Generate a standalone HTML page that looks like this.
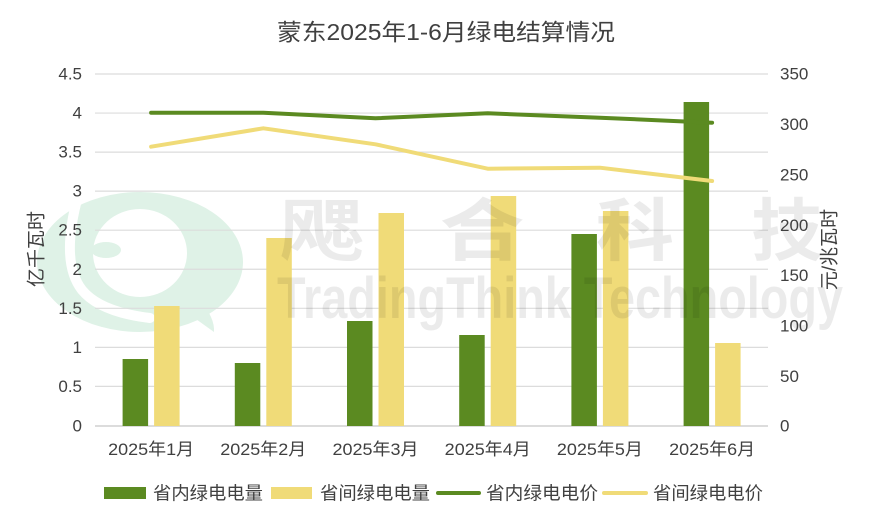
<!DOCTYPE html>
<html><head><meta charset="utf-8"><style>
html,body{margin:0;padding:0;background:#fff;}
svg{display:block;}
text{font-family:"Liberation Sans","Noto Sans CJK SC",sans-serif;fill:#404040;}
</style></head><body>
<svg width="869" height="524" viewBox="0 0 869 524" xmlns="http://www.w3.org/2000/svg">
<rect width="869" height="524" fill="#fff"/>
<!-- logo watermark -->
<ellipse cx="140" cy="262" rx="103" ry="70" fill="#dff2e7"/>
<path d="M78 196 Q60 262 82 290 Q100 312 150 318" fill="none" stroke="#fff" stroke-width="10" stroke-linecap="round"/>
<rect x="20" y="180" width="45" height="30" fill="#fff"/>
<ellipse cx="140" cy="253" rx="47" ry="44" fill="#fff"/>
<ellipse cx="106" cy="250" rx="15" ry="8" fill="#dff2e7"/>
<path d="M178 306 Q200 322 214 332 Q215 318 200 300 Z" fill="#dff2e7"/>
<!-- gridlines -->
<g stroke="#dcdcdc" stroke-width="1.2">
<line x1="95" y1="74" x2="768" y2="74"/>
<line x1="95" y1="113.05" x2="768" y2="113.05"/>
<line x1="95" y1="152.1" x2="768" y2="152.1"/>
<line x1="95" y1="191.15" x2="768" y2="191.15"/>
<line x1="95" y1="230.2" x2="768" y2="230.2"/>
<line x1="95" y1="269.25" x2="768" y2="269.25"/>
<line x1="95" y1="308.3" x2="768" y2="308.3"/>
<line x1="95" y1="347.35" x2="768" y2="347.35"/>
<line x1="95" y1="386.4" x2="768" y2="386.4"/>
</g>
<line x1="95" y1="426" x2="768" y2="426" stroke="#d0d0d0" stroke-width="1.5"/>
<!-- bars -->
<g fill="#5b8a21">
<rect x="122.6" y="359" width="25.5" height="67"/>
<rect x="234.8" y="363" width="25.5" height="63"/>
<rect x="347" y="321" width="25.5" height="105"/>
<rect x="459.2" y="335" width="25.5" height="91"/>
<rect x="571.4" y="234" width="25.5" height="192"/>
<rect x="683.6" y="102" width="25.5" height="324"/>
</g>
<g fill="#f0db78">
<rect x="154.1" y="306" width="25.5" height="120"/>
<rect x="266.3" y="238" width="25.5" height="188"/>
<rect x="378.5" y="213" width="25.5" height="213"/>
<rect x="490.7" y="196" width="25.5" height="230"/>
<rect x="602.9" y="211" width="25.5" height="215"/>
<rect x="715.1" y="343" width="25.5" height="83"/>
</g>
<!-- lines -->
<polyline fill="none" stroke="#5b8a21" stroke-width="4" stroke-linecap="round" stroke-linejoin="round" points="151.1,112.7 263.3,112.7 375.5,118.3 487.7,113.3 599.9,117.7 712.1,122.7"/>
<polyline fill="none" stroke="#f0db78" stroke-width="4" stroke-linecap="round" stroke-linejoin="round" points="151.1,146.7 263.3,128.3 375.5,144.3 487.7,168.7 599.9,167.7 712.1,181"/>
<!-- text watermark -->
<g font-size="68" text-anchor="middle">
<text transform="translate(322,255) scale(1.25,1)" style="font-family:'Noto Sans CJK SC',sans-serif;font-weight:bold;fill:#000;fill-opacity:0.08">飔</text>
<text transform="translate(482,255) scale(1.25,1)" style="font-family:'Noto Sans CJK SC',sans-serif;font-weight:bold;fill:#000;fill-opacity:0.08">合</text>
<text transform="translate(635,255) scale(1.15,1)" style="font-family:'Noto Sans CJK SC',sans-serif;font-weight:bold;fill:#000;fill-opacity:0.08">科</text>
<text transform="translate(787,255) scale(1.05,1)" style="font-family:'Noto Sans CJK SC',sans-serif;font-weight:bold;fill:#000;fill-opacity:0.08">技</text>
</g>
<text x="277" y="318" font-size="58" textLength="566" lengthAdjust="spacingAndGlyphs" style="font-weight:bold;fill:#000;fill-opacity:0.08">TradingThink Technology</text>
<!-- title -->
<text x="446" y="40" font-size="23" text-anchor="middle" textLength="338" lengthAdjust="spacingAndGlyphs">蒙东2025年1-6月绿电结算情况</text>
<!-- left ticks -->
<g font-size="17" text-anchor="end" dominant-baseline="central">
<text x="82" y="426">0</text>
<text x="82" y="386.4">0.5</text>
<text x="82" y="347.35">1</text>
<text x="82" y="308.3">1.5</text>
<text x="82" y="269.25">2</text>
<text x="82" y="230.2">2.5</text>
<text x="82" y="191.15">3</text>
<text x="82" y="152.1">3.5</text>
<text x="82" y="113.05">4</text>
<text x="82" y="74">4.5</text>
</g>
<!-- right ticks -->
<g font-size="17" text-anchor="start" dominant-baseline="central">
<text x="780" y="426">0</text>
<text x="780" y="376.4">50</text>
<text x="780" y="325.8">100</text>
<text x="780" y="275.6">150</text>
<text x="780" y="225.3">200</text>
<text x="780" y="175.1">250</text>
<text x="780" y="124.3">300</text>
<text x="780" y="74">350</text>
</g>
<!-- x labels -->
<g font-size="17" text-anchor="middle">
<text x="151.1" y="455" textLength="86" lengthAdjust="spacingAndGlyphs">2025年1月</text>
<text x="263.3" y="455" textLength="86" lengthAdjust="spacingAndGlyphs">2025年2月</text>
<text x="375.5" y="455" textLength="86" lengthAdjust="spacingAndGlyphs">2025年3月</text>
<text x="487.7" y="455" textLength="86" lengthAdjust="spacingAndGlyphs">2025年4月</text>
<text x="599.9" y="455" textLength="86" lengthAdjust="spacingAndGlyphs">2025年5月</text>
<text x="712.1" y="455" textLength="86" lengthAdjust="spacingAndGlyphs">2025年6月</text>
</g>
<!-- axis titles -->
<text transform="translate(37,249) rotate(-90)" font-size="19" text-anchor="middle" dominant-baseline="central">亿千瓦时</text>
<text transform="translate(830,249.5) rotate(-90)" font-size="19" text-anchor="middle" dominant-baseline="central">元/兆瓦时</text>
<!-- legend -->
<rect x="104" y="487" width="42" height="12" fill="#5b8a21"/>
<text x="153" y="499.5" font-size="18" textLength="110" lengthAdjust="spacingAndGlyphs">省内绿电电量</text>
<rect x="271" y="487" width="41" height="12" fill="#f0db78"/>
<text x="320" y="499.5" font-size="18" textLength="110" lengthAdjust="spacingAndGlyphs">省间绿电电量</text>
<line x1="438" y1="493" x2="479" y2="493" stroke="#5b8a21" stroke-width="4" stroke-linecap="round"/>
<text x="486" y="499.5" font-size="18" textLength="112" lengthAdjust="spacingAndGlyphs">省内绿电电价</text>
<line x1="604" y1="493" x2="646" y2="493" stroke="#f0db78" stroke-width="4" stroke-linecap="round"/>
<text x="653" y="499.5" font-size="18" textLength="110" lengthAdjust="spacingAndGlyphs">省间绿电电价</text>
</svg>
</body></html>
